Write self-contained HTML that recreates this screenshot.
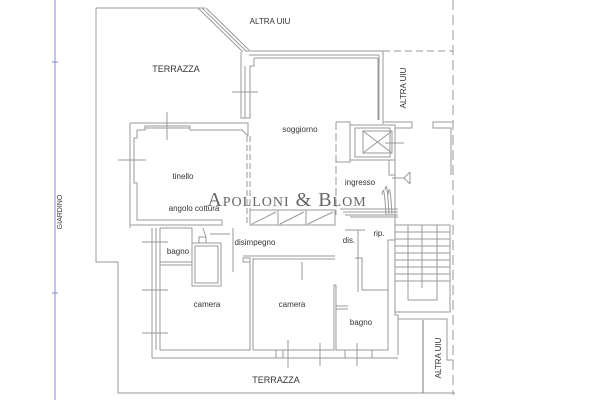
<!DOCTYPE html>
<html><head><meta charset="utf-8"><style>
html,body{margin:0;padding:0;background:#fff}
svg{display:block}
text{font-family:"Liberation Sans",sans-serif;fill:#333}
</style></head><body>
<svg width="600" height="400" viewBox="0 0 600 400" xmlns="http://www.w3.org/2000/svg">
<g fill="none" stroke="#9a9a9a" stroke-width="1">
<!-- blue garden line -->
<line x1="55" y1="0" x2="55" y2="400" stroke="#8a8ad0"/>
<line x1="52" y1="62" x2="58" y2="62" stroke="#8a8ad0"/>
<line x1="52" y1="293" x2="58" y2="293" stroke="#8a8ad0"/>
<!-- outer boundary -->
<polyline points="96,8 96,262 118,262 118,393 455,393"/>
<line x1="96" y1="8" x2="205" y2="8"/>
<line x1="198" y1="8" x2="243" y2="52"/>
<line x1="202" y1="8" x2="246" y2="51"/>
<line x1="206" y1="8" x2="249" y2="50"/>
<!-- top wall soggiorno -->
<line x1="245" y1="51" x2="384" y2="51"/>
<line x1="249" y1="55" x2="379" y2="55"/>
<line x1="254" y1="58" x2="378" y2="58"/>
<line x1="383" y1="51" x2="383" y2="124"/>
<line x1="379" y1="55" x2="379" y2="120"/>
<line x1="378" y1="58" x2="378" y2="120"/>
<line x1="383" y1="51" x2="453" y2="51" stroke-dasharray="7,4"/>
<line x1="453" y1="0" x2="453" y2="395" stroke-dasharray="10,5"/>
<!-- terrace right wall -->
<polyline points="241,52 241,118 250,118 250,66 254,66 254,58"/>
<line x1="245" y1="66" x2="245" y2="118"/>
<line x1="232" y1="92" x2="258" y2="92"/>
<line x1="245" y1="84" x2="245" y2="100"/>
<!-- tinello -->
<polyline points="130,123 248,123 248,136"/>
<polyline points="130,123 130,228"/>
<polyline points="137,130 145,130 145,126 190,126 190,130 242,130 248,136"/>
<line x1="145" y1="128" x2="190" y2="128"/>
<polyline points="137,130 137,138 134,138 134,183 137,183 137,220 222,220 222,225 130,225"/>
<line x1="167" y1="112" x2="167" y2="140"/>
<line x1="118" y1="160" x2="146" y2="160"/>
<line x1="247" y1="136" x2="247" y2="225" stroke-dasharray="6,3"/>
<line x1="250" y1="136" x2="250" y2="225" stroke-dasharray="6,3"/>
<!-- soggiorno/ingresso left -->
<line x1="336" y1="122" x2="336" y2="215" stroke-dasharray="8,3"/>
<polyline points="336,122 350,122 350,162 336,162"/>
<!-- lift -->
<rect x="350" y="125" width="45" height="35"/>
<rect x="355" y="128" width="35" height="29"/>
<rect x="363" y="131" width="29" height="22"/>
<line x1="363" y1="131" x2="392" y2="153"/><line x1="392" y1="131" x2="363" y2="153"/>
<line x1="385" y1="143" x2="404" y2="143"/>
<polyline points="383,122 412,122 412,128 395,128 395,175 389,175 389,160"/>
<polyline points="453,122 433,122 433,128 451,128 451,175"/>
<line x1="404" y1="178" x2="410" y2="172"/><line x1="404" y1="178" x2="410" y2="184"/><line x1="410" y1="172" x2="410" y2="184"/>
<line x1="392" y1="178" x2="404" y2="178"/>
<!-- cypress -->
<path d="M382,195 Q384,180 386,215 M388,195 Q390,178 392,215 M385,190 Q387,176 389,215" stroke="#999"/>
<!-- wardrobe -->
<rect x="250" y="210" width="85" height="15"/>
<line x1="278" y1="210" x2="278" y2="225"/><line x1="306" y1="210" x2="306" y2="225"/>
<line x1="252" y1="224" x2="276" y2="212"/><line x1="280" y1="224" x2="304" y2="212"/><line x1="308" y1="224" x2="333" y2="212"/>
<line x1="340" y1="209" x2="398" y2="209"/><line x1="343" y1="212" x2="398" y2="212"/>
<line x1="345" y1="215" x2="398" y2="215"/><line x1="350" y1="217" x2="398" y2="217"/>
<!-- stair -->
<polyline points="395,175 395,315 398,315 398,355"/>
<rect x="395" y="225" width="55" height="87"/>
<rect x="408" y="225" width="29" height="75"/>
<line x1="422" y1="225" x2="422" y2="288"/>
<g>
<line x1="395" y1="232" x2="450" y2="232"/><line x1="395" y1="239" x2="450" y2="239"/>
<line x1="395" y1="246" x2="450" y2="246"/><line x1="395" y1="253" x2="450" y2="253"/>
<line x1="395" y1="260" x2="450" y2="260"/><line x1="395" y1="267" x2="450" y2="267"/>
<line x1="395" y1="274" x2="450" y2="274"/><line x1="395" y1="281" x2="450" y2="281"/>
</g>
<polyline points="398,319 447,319 447,360 453,360"/>
<line x1="423" y1="320" x2="423" y2="393" stroke="#777"/>
<!-- bottom wall -->
<line x1="152" y1="358" x2="398" y2="358"/>
<polyline points="160,350 250,350 250,258 243,258 243,262 250,262"/>
<polyline points="253,350 334,350 334,285 336,285"/>
<line x1="253" y1="258" x2="253" y2="350"/>
<line x1="243" y1="256" x2="335" y2="256"/>
<line x1="253" y1="259" x2="335" y2="259"/>
<line x1="276" y1="350" x2="276" y2="358"/><line x1="283" y1="350" x2="283" y2="358"/>
<line x1="288" y1="340" x2="288" y2="368"/><line x1="320" y1="343" x2="320" y2="366"/>
<line x1="357" y1="343" x2="357" y2="366"/>
<polyline points="336,285 336,350 388,350 388,260"/>
<line x1="345" y1="350" x2="345" y2="358"/><line x1="372" y1="350" x2="372" y2="358"/>
<polyline points="355,258 362,258 362,290 388,290"/>
<line x1="358" y1="258" x2="358" y2="292"/>
<line x1="336" y1="306" x2="348" y2="306"/><line x1="336" y1="309" x2="348" y2="309"/>
<!-- left walls camera -->
<line x1="152" y1="228" x2="152" y2="358"/>
<line x1="160" y1="228" x2="160" y2="350"/>
<line x1="156" y1="228" x2="156" y2="350"/>
<line x1="142" y1="242" x2="168" y2="242"/><line x1="142" y1="290" x2="168" y2="290"/><line x1="142" y1="333" x2="168" y2="333"/>
<!-- bagno small -->
<polyline points="160,228 192,228 192,262 160,262"/>
<line x1="160" y1="265" x2="192" y2="265"/>
<rect x="192" y="243" width="29" height="43"/>
<rect x="195" y="246" width="23" height="37"/>
<rect x="199" y="237" width="7" height="6"/>
<line x1="203" y1="228" x2="206" y2="237"/>
<line x1="233" y1="228" x2="233" y2="272"/>
<line x1="210" y1="234" x2="230" y2="234"/>
<!-- dis -->
<line x1="345" y1="230" x2="365" y2="230"/>
<polyline points="358,230 358,258"/>
<polyline points="388,260 388,240 395,240"/>
<line x1="302" y1="262" x2="302" y2="280"/>
</g>
<!-- labels -->
<text x="270" y="24" font-size="8" text-anchor="middle">ALTRA UIU</text>
<text x="176" y="72" font-size="9" text-anchor="middle">TERRAZZA</text>
<text x="300" y="132" font-size="8" text-anchor="middle">soggiorno</text>
<text x="183" y="179" font-size="8" text-anchor="middle">tinello</text>
<text x="194" y="211" font-size="8" text-anchor="middle">angolo cottura</text>
<text x="360" y="185" font-size="8" text-anchor="middle">ingresso</text>
<text x="178" y="254" font-size="8" text-anchor="middle">bagno</text>
<text x="255" y="245" font-size="8" text-anchor="middle">disimpegno</text>
<text x="349" y="243" font-size="8" text-anchor="middle">dis.</text>
<text x="379" y="236" font-size="8" text-anchor="middle">rip.</text>
<text x="207" y="307" font-size="8" text-anchor="middle">camera</text>
<text x="292" y="307" font-size="8" text-anchor="middle">camera</text>
<text x="361" y="325" font-size="8" text-anchor="middle">bagno</text>
<text x="276" y="383" font-size="9" text-anchor="middle">TERRAZZA</text>
<text transform="translate(406,88) rotate(-90)" font-size="8" text-anchor="middle">ALTRA UIU</text>
<text transform="translate(441,358) rotate(-90)" font-size="8" text-anchor="middle">ALTRA UIU</text>
<text transform="translate(62,212) rotate(-90)" font-size="7" text-anchor="middle">GIARDINO</text>
<text x="287" y="206" font-size="20" text-anchor="middle" style="font-family:'Liberation Serif',serif;font-variant:small-caps;fill:#666;letter-spacing:1px">Apolloni &amp; Blom</text>
</svg>
</body></html>
